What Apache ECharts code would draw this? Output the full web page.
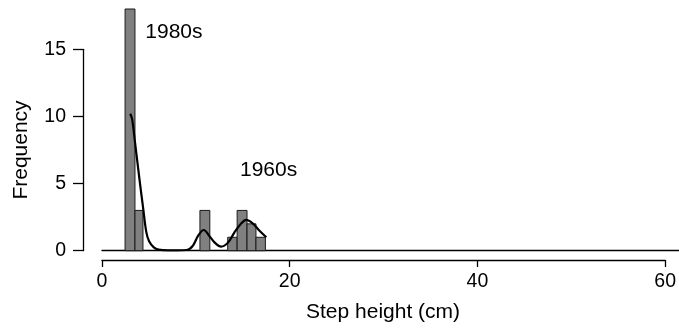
<!DOCTYPE html>
<html>
<head>
<meta charset="utf-8">
<script src="https://cdn.jsdelivr.net/npm/echarts@6/dist/echarts.min.js"></script>
<style>
  html, body { margin: 0; padding: 0; background: #fff; }
  #chart { width: 679px; height: 329px; }
</style>
</head>
<body>
<div id="chart"></div>
<script>
// Histogram of step heights: bin edges (cm) and counts
const binLeft  = [2.45, 3.5, 10.4, 13.35, 14.35, 15.4, 16.35];
const binRight = [3.5, 4.35, 11.45, 14.35, 15.4, 16.35, 17.35];
const counts   = [18, 3, 3, 1, 3, 2, 1];

// Smoothed density curve, scaled to frequency
const curveX = [3.0, 3.2, 3.5, 4.0, 4.4, 4.7, 5.0, 5.5, 6.0, 7.0, 8.0, 9.0, 9.65, 10.2, 10.8, 11.4, 11.95, 12.66, 13.4, 14.07, 14.8, 15.3, 16.0, 16.7, 17.45];
const curveY = [10.2, 9.8, 8.1, 5.2, 3.0, 1.4, 0.7, 0.25, 0.08, 0.02, 0.02, 0.05, 0.37, 1.1, 1.54, 1.1, 0.62, 0.3, 0.62, 1.37, 2.04, 2.29, 2.04, 1.5, 1.0];

// Axis ticks
const xTicks = [0, 20, 40, 60];
const yTicks = [0, 5, 10, 15];

// Group annotations: [label, x, y] in data units (left edge, middle)
const annotations = [['1980s', 4.6, 16.3], ['1960s', 14.65, 6.0]];

const FONT = '"Liberation Sans", Arial, sans-serif';
const chart = echarts.init(document.getElementById('chart'), null, { renderer: 'canvas' });

const bins = binLeft.map((l, i) => [l, binRight[i], counts[i]]);
const curve = curveX.map((x, i) => [x, curveY[i]]);

const PX_PER_CM = 565 / 60;

chart.setOption({
  animation: false,
  grid: [
    // plotting area
    { left: 102, right: 0, top: 9, bottom: 78.3 },
    // y axis display
    { left: 83, width: 10, top: 49.3, bottom: 78.3 },
    // x axis display
    { left: 102, width: 565, top: 259, height: 1 }
  ],
  xAxis: [
    { gridIndex: 0, type: 'value', min: 0, max: 577 / PX_PER_CM,
      axisLine: { show: true, onZero: false, lineStyle: { color: '#000', width: 1.3 } },
      axisTick: { show: false }, axisLabel: { show: false }, splitLine: { show: false } },
    { gridIndex: 1, type: 'value', show: false, min: 0, max: 1 },
    { gridIndex: 2, type: 'value', min: xTicks[0], max: xTicks[xTicks.length - 1], interval: 20,
      position: 'bottom',
      axisLine: { show: true, onZero: false, lineStyle: { color: '#000', width: 1.3 } },
      axisTick: { show: true, length: 7, lineStyle: { color: '#000', width: 1.3 } },
      axisLabel: { show: true, color: '#000', fontSize: 19.5, fontFamily: FONT, margin: 12,
                   showMaxLabel: true, showMinLabel: true },
      splitLine: { show: false } }
  ],
  yAxis: [
    { gridIndex: 0, type: 'value', min: 0, max: 18, show: false },
    { gridIndex: 1, type: 'value', min: yTicks[0], max: yTicks[yTicks.length - 1], interval: 5,
      axisLine: { show: true, lineStyle: { color: '#000', width: 1.3 } },
      axisTick: { show: true, length: 10, lineStyle: { color: '#000', width: 1.3 } },
      axisLabel: { color: '#000', fontSize: 19.5, fontFamily: FONT, margin: 17 },
      splitLine: { show: false },
      name: 'Frequency', nameLocation: 'middle', nameRotate: 90, nameGap: 51,
      nameTextStyle: { color: '#000', fontSize: 21, fontFamily: FONT } },
    { gridIndex: 2, type: 'value', show: false, min: 0, max: 1 }
  ],
  series: [
    {
      type: 'custom', xAxisIndex: 0, yAxisIndex: 0, data: bins,
      renderItem: function (params, api) {
        const p0 = api.coord([api.value(0), 0]);
        const p1 = api.coord([api.value(1), api.value(2)]);
        return {
          type: 'rect',
          shape: { x: p0[0], y: p1[1], width: p1[0] - p0[0], height: p0[1] - p1[1] },
          style: { fill: '#808080', stroke: '#1a1a1a', lineWidth: 1 }
        };
      },
      z: 2
    },
    {
      type: 'line', xAxisIndex: 0, yAxisIndex: 0, data: curve,
      showSymbol: false, smooth: 0.35,
      lineStyle: { color: '#000', width: 2.2 }, z: 3
    },
    {
      type: 'custom', xAxisIndex: 0, yAxisIndex: 0,
      data: annotations.map(a => [a[1], a[2], a[0]]),
      renderItem: function (params, api) {
        const p = api.coord([api.value(0), api.value(1)]);
        return {
          type: 'text',
          x: p[0], y: p[1],
          style: { text: annotations[params.dataIndex][0], fill: '#000',
                   font: '21px ' + FONT, verticalAlign: 'middle', align: 'left' }
        };
      },
      z: 4
    }
  ],
  graphic: [
    { type: 'text', left: 306, top: 302,
      style: { text: 'Step height (cm)', fill: '#000', font: '21px ' + FONT } }
  ]
});
</script>
</body>
</html>
